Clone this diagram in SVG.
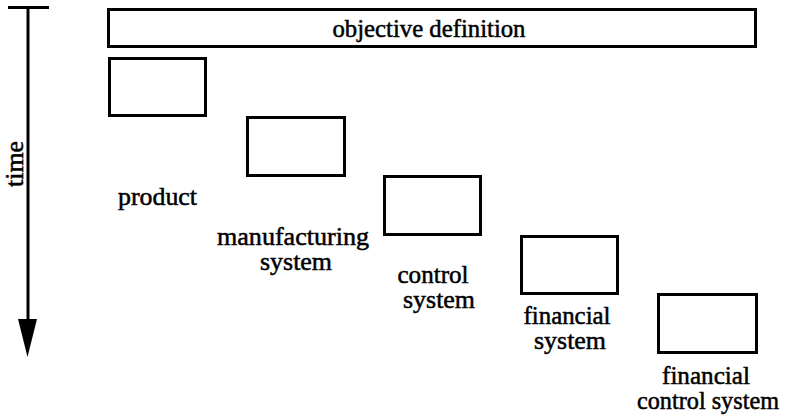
<svg xmlns="http://www.w3.org/2000/svg" width="785" height="417" viewBox="0 0 785 417">
  <style>
    .box { fill: #fff; stroke: #000; stroke-width: 3; }
    .lbl { font-family: 'Liberation Serif', 'Times New Roman', serif; font-size: 25px; fill: #000; stroke: #000; stroke-width: 0.5; text-anchor: middle; }
    .axis { stroke: #000; stroke-width: 3; fill: none; }
  </style>
  <rect width="785" height="417" fill="#fff"/>

  <!-- time axis -->
  <g id="time-axis">
    <line class="axis" x1="8" y1="7.5" x2="49" y2="7.5"/>
    <line class="axis" x1="28" y1="7" x2="28" y2="322"/>
    <polygon points="18,319 37,319 27.5,357" fill="#000"/>
    <text class="lbl" transform="translate(23,164) rotate(-90)" textLength="46" lengthAdjust="spacingAndGlyphs">time</text>
  </g>

  <!-- phases -->
  <g id="objective-definition">
    <rect class="box" x="108.5" y="9.5" width="647" height="37"/>
    <text class="lbl" x="429" y="37" textLength="193" lengthAdjust="spacingAndGlyphs">objective definition</text>
  </g>
  <g id="product">
    <rect class="box" x="109.5" y="58.5" width="96" height="57"/>
    <text class="lbl" x="157.5" y="205" textLength="79" lengthAdjust="spacingAndGlyphs">product</text>
  </g>
  <g id="manufacturing-system">
    <rect class="box" x="247.5" y="117.5" width="97" height="58"/>
    <text class="lbl" x="293" y="245" textLength="152" lengthAdjust="spacingAndGlyphs">manufacturing</text>
    <text class="lbl" x="296" y="270" textLength="72" lengthAdjust="spacingAndGlyphs">system</text>
  </g>
  <g id="control-system">
    <rect class="box" x="384.5" y="176.5" width="96" height="58"/>
    <text class="lbl" x="433" y="283" textLength="71" lengthAdjust="spacingAndGlyphs">control</text>
    <text class="lbl" x="439" y="308" textLength="72" lengthAdjust="spacingAndGlyphs">system</text>
  </g>
  <g id="financial-system">
    <rect class="box" x="521.5" y="236.5" width="96" height="57"/>
    <text class="lbl" x="567" y="324" textLength="87" lengthAdjust="spacingAndGlyphs">financial</text>
    <text class="lbl" x="570" y="349" textLength="72" lengthAdjust="spacingAndGlyphs">system</text>
  </g>
  <g id="financial-control-system">
    <rect class="box" x="658.5" y="294.5" width="98" height="58"/>
    <text class="lbl" x="706" y="384" textLength="88" lengthAdjust="spacingAndGlyphs">financial</text>
    <text class="lbl" x="708" y="409" textLength="142" lengthAdjust="spacingAndGlyphs">control system</text>
  </g>

  <g id="connectors"/>
</svg>
